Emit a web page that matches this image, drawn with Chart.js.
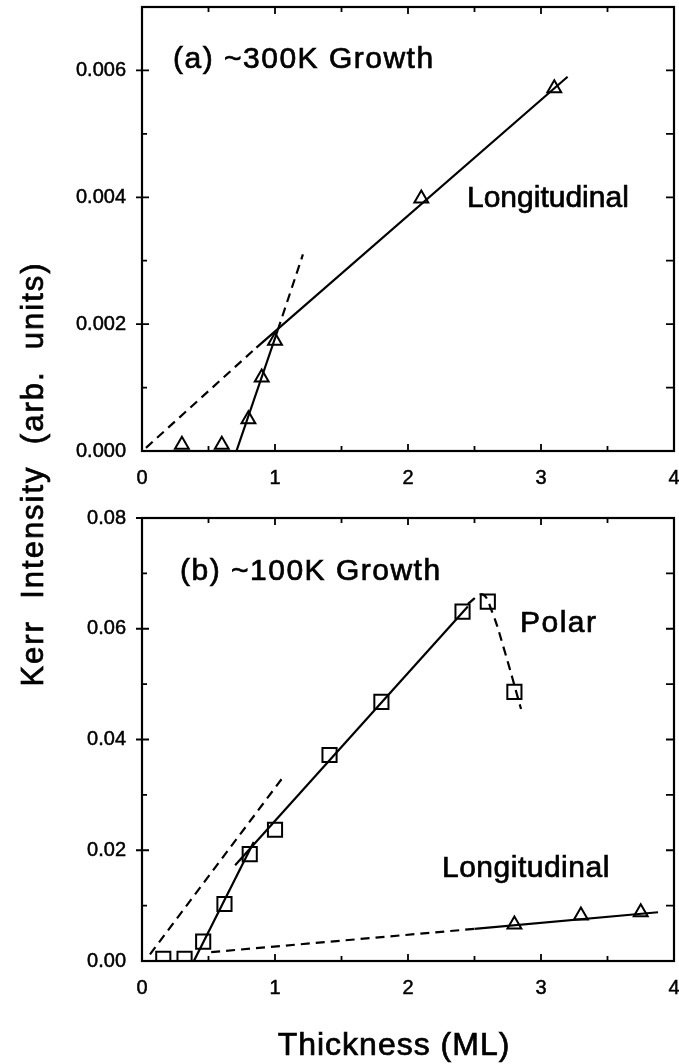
<!DOCTYPE html>
<html>
<head>
<meta charset="utf-8">
<title>Kerr intensity vs thickness</title>
<script src="https://cdn.jsdelivr.net/npm/chart.js@4.4.1/dist/chart.umd.min.js"></script>
<style>
  html, body { margin: 0; padding: 0; background: #fff; }
  #wrap { position: relative; width: 679px; height: 1064px; }
  #wrap canvas { position: absolute; left: 0; top: 0; }
</style>
</head>
<body>
<div id="wrap">
  <canvas id="chartA" width="679" height="1064"></canvas>
  <canvas id="chartB" width="679" height="1064"></canvas>
</div>
<script>
// ---- (a) ~300K growth, longitudinal signal ----
const thicknessA = [0.3, 0.6, 0.8, 0.9, 1.0, 2.1, 3.1];
const longA = [0.0001, 0.0001, 0.0005, 0.00116, 0.00174, 0.00398, 0.00572];

// straight-line fits, [thickness, kerr] end points
const onsetA = [[0.71, 0], [1.02, 0.0019]];
const onsetExtA = [[1.02, 0.0019], [1.21, 0.0031]];
const slopeA = [[0.86, 0.00163], [3.2, 0.0059]];
const slopeExtA = [[0.03, 0.00005], [0.86, 0.00163]];

// ---- (b) ~100K growth, polar + longitudinal ----
const thicknessPolar = [0.16, 0.32, 0.46, 0.62, 0.81, 1.0, 1.41, 1.8, 2.41, 2.6, 2.8];
const polarB = [0.0004, 0.0004, 0.0035, 0.0103, 0.0193, 0.0237, 0.0372, 0.0468, 0.0631, 0.0649, 0.0486];
const thicknessLongB = [2.8, 3.3, 3.75];
const longB = [0.0066, 0.0082, 0.0088];

const onsetB = [[0.39, 0], [0.84, 0.0215]];
const slopeB = [[0.7, 0.0173], [2.45, 0.064]];
const slopeExtB = [[0.06, 0.0012], [1.07, 0.0335]];
const dropB = [[2.45, 0.0645], [2.56, 0.0662], [2.63, 0.0632], [2.72, 0.0565], [2.85, 0.0455]];
const longFitB = [[2.5, 0.0058], [3.88, 0.0088]];
const longExtB = [[0.52, 0.0016], [2.5, 0.0058]];

// ---- axes ----
const xTicks = [0, 1, 2, 3, 4];
const xLabels = ['0', '1', '2', '3', '4'];
const xMinor = [0.5, 1.5, 2.5, 3.5];
const yTicksA = [0, 0.002, 0.004, 0.006];
const yLabelsA = ['0.000', '0.002', '0.004', '0.006'];
const yMinorA = [0.001, 0.003, 0.005];
const yTicksB = [0, 0.02, 0.04, 0.06, 0.08];
const yLabelsB = ['0.00', '0.02', '0.04', '0.06', '0.08'];
const yMinorB = [0.01, 0.03, 0.05, 0.07];

const FONT = '"Liberation Sans", Arial, sans-serif';
Chart.defaults.font.family = FONT;
Chart.defaults.color = '#000';

const toPoints = (xs, ys) => xs.map((x, i) => ({ x, y: ys[i] }));

const line = (pairs, dashed, extra) => Object.assign({
  data: pairs.map(([x, y]) => ({ x, y })),
  showLine: true,
  borderColor: '#000',
  borderWidth: 2.2,
  borderDash: dashed ? [9, 6] : [],
  pointRadius: 0,
  fill: false
}, extra || {});

const markers = (xs, ys, style, radius) => ({
  data: toPoints(xs, ys),
  showLine: false,
  pointStyle: style,
  pointRadius: radius,
  pointBorderWidth: 2,
  pointBorderColor: '#000',
  pointBackgroundColor: 'rgba(0,0,0,0)',
  clip: { left: false, right: false, top: false, bottom: 0 }
});

// box round the plot area plus inward ticks on all four sides
const framePlugin = {
  id: 'frame',
  afterDatasetsDraw(chart, args, opts) {
    const { ctx, chartArea: a } = chart;
    const xs = chart.scales.x, ys = chart.scales.y;
    ctx.save();
    ctx.strokeStyle = '#000';
    ctx.lineWidth = 2.2;
    ctx.strokeRect(a.left, a.top, a.right - a.left, a.bottom - a.top);
    ctx.lineWidth = 1.8;
    ctx.beginPath();
    const xt = (v, len) => {
      const p = xs.getPixelForValue(v);
      ctx.moveTo(p, a.bottom); ctx.lineTo(p, a.bottom - len);
      ctx.moveTo(p, a.top); ctx.lineTo(p, a.top + len);
    };
    const yt = (v, len, out) => {
      const p = ys.getPixelForValue(v);
      ctx.moveTo(a.left - out, p); ctx.lineTo(a.left + len, p);
      ctx.moveTo(a.right, p); ctx.lineTo(a.right - 8, p);
    };
    xTicks.slice(1, -1).forEach(v => xt(v, 7));
    xMinor.forEach(v => xt(v, 5));
    opts.yMajor.slice(1).forEach(v => yt(v, 7, 6));
    opts.yMinor.forEach(v => yt(v, 5, 0));
    ctx.stroke();
    ctx.restore();
  }
};

// free text: panel captions, curve names, axis titles
const textPlugin = {
  id: 'notes',
  afterDraw(chart, args, opts) {
    const ctx = chart.ctx;
    opts.items.forEach(t => {
      ctx.save();
      ctx.fillStyle = '#000';
      ctx.strokeStyle = '#000';
      ctx.lineWidth = 0.7;
      ctx.font = t.size + 'px ' + FONT;
      ctx.letterSpacing = (t.spacing || 0) + 'px';
      ctx.textBaseline = 'alphabetic';
      ctx.textAlign = t.align || 'left';
      ctx.translate(t.x, t.y);
      if (t.rotate) ctx.rotate(t.rotate);
      ctx.fillText(t.text, 0, 0);
      ctx.strokeText(t.text, 0, 0);
      ctx.restore();
    });
  }
};

const scalesFor = (yMax, yTicks, yLabels, xHeight) => ({
  x: {
    type: 'linear', min: 0, max: 4,
    grid: { display: false }, border: { display: false },
    afterBuildTicks: s => { s.ticks = xTicks.map(v => ({ value: v })); },
    afterFit: s => { s.height = xHeight; s.paddingLeft = 0; s.paddingRight = 0; },
    ticks: {
      font: { size: 20 }, padding: 7,
      textStrokeColor: '#000', textStrokeWidth: 0.5,
      callback: (v) => xLabels[xTicks.indexOf(v)]
    }
  },
  y: {
    type: 'linear', min: 0, max: yMax,
    grid: { display: false }, border: { display: false },
    afterBuildTicks: s => { s.ticks = yTicks.map(v => ({ value: v })); },
    afterFit: s => { s.width = 142; s.paddingTop = 0; s.paddingBottom = 0; },
    ticks: {
      font: { size: 20 }, padding: 8,
      textStrokeColor: '#000', textStrokeWidth: 0.5,
      callback: (v) => yLabels[yTicks.indexOf(v)]
    }
  }
});

const baseOptions = {
  responsive: false,
  animation: false,
  events: []
};

new Chart(document.getElementById('chartA'), {
  type: 'scatter',
  data: {
    datasets: [
      markers(thicknessA, longA, 'triangle', 8),
      line(onsetA, false),
      line(onsetExtA, true),
      line(slopeA, false),
      line(slopeExtA, true)
    ]
  },
  options: Object.assign({}, baseOptions, {
    layout: { autoPadding: false, padding: { top: 7, right: 5, left: 0, bottom: 1064 - 451 - 40 } },
    scales: scalesFor(0.007, yTicksA, yLabelsA, 40),
    plugins: {
      legend: { display: false },
      tooltip: { enabled: false },
      frame: { yMajor: yTicksA, yMinor: yMinorA },
      notes: {
        items: [
          { text: '(a) ~300K Growth', x: 173, y: 68, size: 30, spacing: 1.5 },
          { text: 'Longitudinal', x: 467, y: 207, size: 30, spacing: 0 }
        ]
      }
    }
  }),
  plugins: [framePlugin, textPlugin]
});

new Chart(document.getElementById('chartB'), {
  type: 'scatter',
  data: {
    datasets: [
      markers(thicknessPolar, polarB, 'rect', 10),
      markers(thicknessLongB, longB, 'triangle', 8),
      line(onsetB, false),
      line(slopeB, false),
      line(slopeExtB, true),
      line(dropB, true, { tension: 0.4 }),
      line(longFitB, false),
      line(longExtB, true)
    ]
  },
  options: Object.assign({}, baseOptions, {
    layout: { autoPadding: false, padding: { top: 518, right: 5, left: 0, bottom: 0 } },
    scales: scalesFor(0.08, yTicksB, yLabelsB, 1064 - 961),
    plugins: {
      legend: { display: false },
      tooltip: { enabled: false },
      frame: { yMajor: yTicksB, yMinor: yMinorB },
      notes: {
        items: [
          { text: '(b) ~100K Growth', x: 180, y: 580, size: 30, spacing: 1.5 },
          { text: 'Polar', x: 520, y: 632, size: 30, spacing: 1.5 },
          { text: 'Longitudinal', x: 442, y: 877, size: 30, spacing: 0.5 },
          { text: 'Thickness (ML)', x: 394, y: 1055, size: 32, spacing: 1, align: 'center' },
          { text: 'Kerr  Intensity  (arb.  units)', x: 43, y: 474, size: 31, spacing: 2,
            align: 'center', rotate: -Math.PI / 2 }
        ]
      }
    }
  }),
  plugins: [framePlugin, textPlugin]
});
</script>
</body>
</html>
